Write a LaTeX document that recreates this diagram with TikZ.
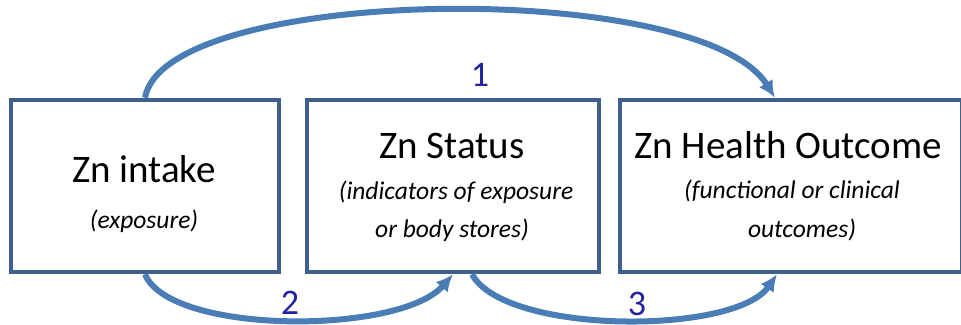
\documentclass[tikz,border=0pt]{standalone}
\usepackage{fontspec}
\setmainfont{Carlito}
\usetikzlibrary{arrows.meta}
\definecolor{boxblue}{RGB}{64,96,140}
\definecolor{arrowblue}{RGB}{74,124,182}
\definecolor{numblue}{RGB}{34,34,160}
\begin{document}
\begin{tikzpicture}[x=1pt,y=-1pt,
  stagebox/.style={draw=boxblue,line width=4.5pt,fill=white,rectangle,inner sep=0pt,minimum height=172pt},
  title/.style={anchor=base,font=\fontsize{39}{42}\selectfont,text=black},
  subtitle/.style={anchor=base,font=\fontsize{25.5}{28}\selectfont\itshape,text=black},
  link/.style={draw=arrowblue,line width=6pt,-{Latex[length=17pt,width=16pt]}},
  num/.style={font=\fontsize{36}{37}\selectfont,text=numblue,anchor=base,inner sep=1pt}]
\useasboundingbox (0,0) rectangle (961,324);
% the three stages
\node[stagebox,minimum width=268pt] (a) at (145,186) {};
\node[stagebox,minimum width=292pt] (b) at (453,186) {};
\node[stagebox,minimum width=342pt] (c) at (791,186) {};
% texts
\node[title] (at) at (144,182) {Zn intake};
\node[subtitle] (as) at (144,228) {(exposure)};
\node[title] (bt) at (452,158) {Zn Status};
\node[subtitle] (bs1) at (456,199) {(indicators of exposure};
\node[subtitle] (bs2) at (452,237) {or body stores)};
\node[title] (ct) at (788,158) {Zn Health Outcome};
\node[subtitle] (cs1) at (792,198) {(functional or clinical};
\node[subtitle] (cs2) at (802,237) {outcomes)};
% connections
\draw[link] (a.north) .. controls (165,-15) and (700,-22) .. ([xshift=-16pt]c.north);
\draw[link] (a.south) .. controls (170,335) and (400,335) .. (b.south);
\draw[link] ([xshift=19pt]b.south) .. controls (505,335) and (735,335) .. ([xshift=-14pt]c.south);
% path numbers
\node[num] (n1) at (480,86) {1};
\node[num] (n2) at (290,314) {2};
\node[num] (n3) at (637,315) {3};
\end{tikzpicture}
\end{document}
